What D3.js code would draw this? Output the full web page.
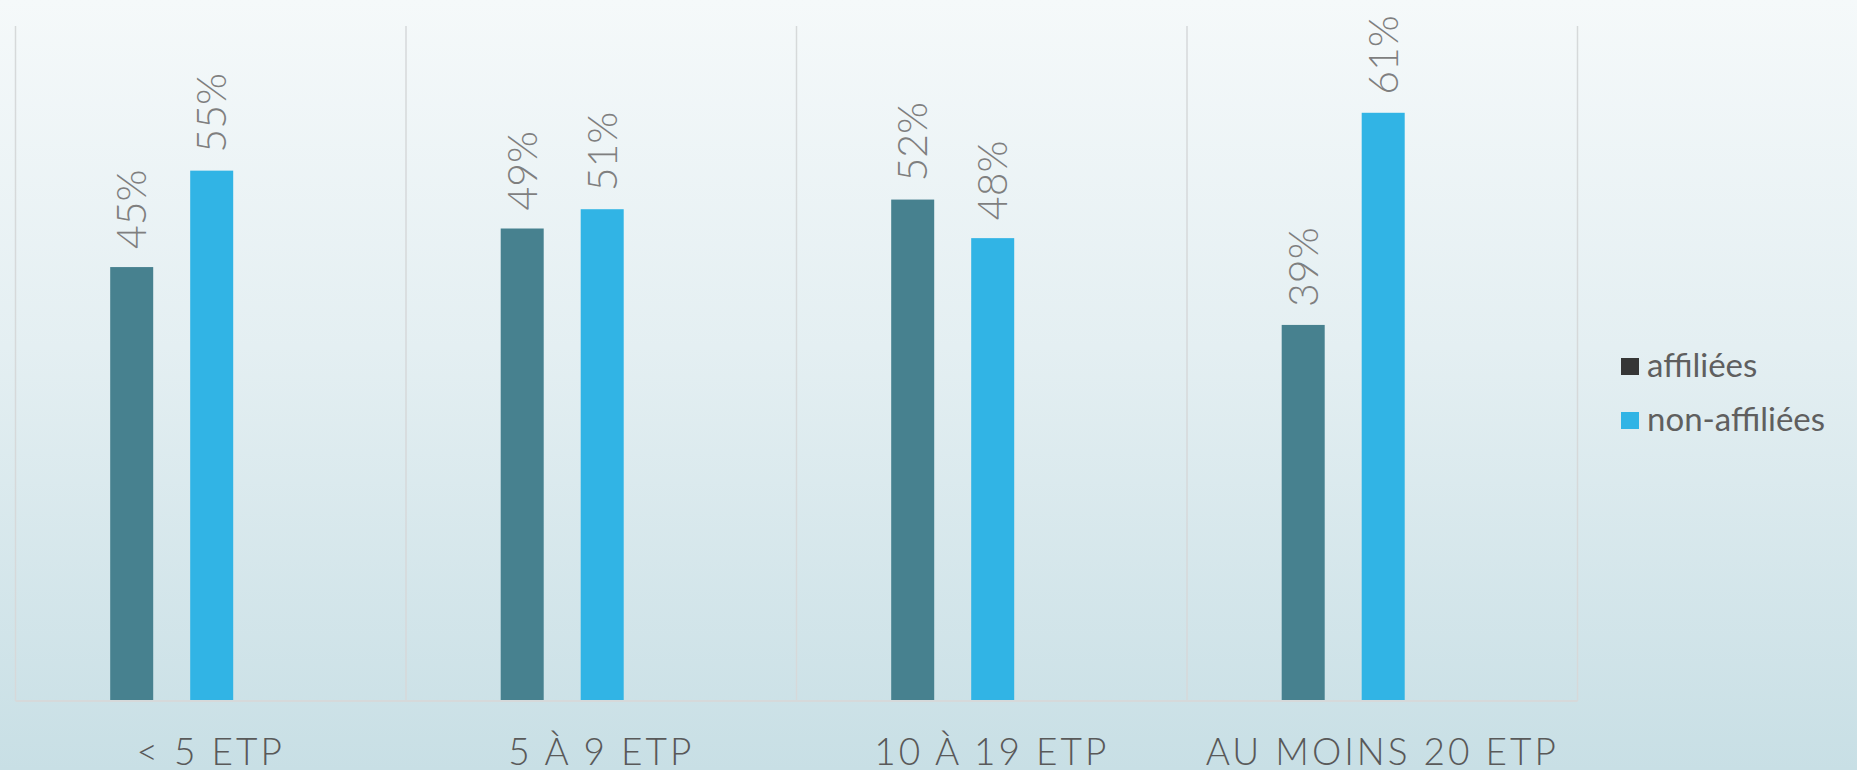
<!DOCTYPE html>
<html>
<head>
<meta charset="utf-8">
<script src="https://cdn.jsdelivr.net/npm/d3@7"></script>
<style>
  html, body { margin: 0; padding: 0; }
  body { width: 1857px; height: 770px; overflow: hidden; }
  svg { display: block; }
</style>
</head>
<body>
<svg id="chart" width="1857" height="770"></svg>
<script>
// Share of establishments by size class, affiliated vs non-affiliated
const categories = ["< 5 ETP", "5 À 9 ETP", "10 À 19 ETP", "AU MOINS 20 ETP"];
const seriesNames = ["affiliées", "non-affiliées"];
const affiliees = [0.45, 0.49, 0.52, 0.39];
const nonAffiliees = [0.55, 0.51, 0.48, 0.61];
const barColors = ["#47818f", "#31b4e5"];
const legendColors = ["#363636", "#31b4e5"];

const W = 1857, H = 770;
const plot = { left: 15.5, right: 1577.5, top: 26, bottom: 701 };

const svg = d3.select("#chart");

// soft vertical background gradient
const defs = svg.append("defs");
const grad = defs.append("linearGradient")
  .attr("id", "bg").attr("x1", 0).attr("y1", 0).attr("x2", 0).attr("y2", 1);
grad.append("stop").attr("offset", "0%").attr("stop-color", "#f5f9fa");
grad.append("stop").attr("offset", "45%").attr("stop-color", "#e4eff2");
grad.append("stop").attr("offset", "100%").attr("stop-color", "#c8dfe5");
svg.append("rect").attr("width", W).attr("height", H).attr("fill", "url(#bg)");

const x0 = d3.scaleBand().domain(categories)
  .range([plot.left, plot.right]).paddingInner(0).paddingOuter(0);
const bw = x0.bandwidth();
// bars sit in the left part of each category slot
const x1 = d3.scaleBand().domain(seriesNames)
  .range([bw * 0.2425, bw * 0.5575]).paddingInner(0.4625).paddingOuter(0);
const y = d3.scaleLinear().domain([0, 0.7]).range([plot.bottom, plot.top]);

// vertical separators between categories
const bounds = categories.map(c => x0(c)).concat([x0(categories[categories.length - 1]) + bw]);
svg.append("g").selectAll("line").data(bounds).join("line")
  .attr("x1", d => d).attr("x2", d => d)
  .attr("y1", plot.top).attr("y2", plot.bottom)
  .attr("stroke", "#d6d9da").attr("stroke-width", 1.5);

// bars
const rows = categories.map((c, i) => ({
  cat: c,
  vals: [
    { key: seriesNames[0], v: affiliees[i], color: barColors[0] },
    { key: seriesNames[1], v: nonAffiliees[i], color: barColors[1] }
  ]
}));

const groups = svg.append("g").selectAll("g").data(rows).join("g")
  .attr("transform", d => `translate(${x0(d.cat)},0)`);

groups.selectAll("rect").data(d => d.vals).join("rect")
  .attr("x", d => x1(d.key))
  .attr("width", x1.bandwidth())
  .attr("y", d => y(d.v))
  .attr("height", d => y(0) - y(d.v))
  .attr("fill", d => d.color);

// rotated value labels above bars
groups.selectAll("text.val").data(d => d.vals).join("text")
  .attr("class", "val")
  .attr("transform", d => `translate(${x1(d.key) + x1.bandwidth() / 2},${y(d.v) - 18}) rotate(-90)`)
  .attr("dy", "0.36em")
  .attr("text-anchor", "start")
  .attr("font-family", "Lato, 'Open Sans', sans-serif")
  .attr("font-weight", 300)
  .attr("font-size", 41)
  .attr("fill", "#7f7f7f")
  .text(d => Math.round(d.v * 100) + "%");

// baseline
svg.append("line")
  .attr("x1", plot.left).attr("x2", plot.right)
  .attr("y1", plot.bottom).attr("y2", plot.bottom)
  .attr("stroke", "#d6d9da").attr("stroke-width", 2);

// category axis
const xAxis = d3.axisBottom(x0).tickSize(0).tickPadding(0);
const axisG = svg.append("g").attr("transform", `translate(0,${plot.bottom})`).call(xAxis);
axisG.select(".domain").remove();
axisG.selectAll("text")
  .attr("y", 64)
  .attr("dy", 0)
  .attr("font-family", "Lato, 'Open Sans', sans-serif")
  .attr("font-weight", 300)
  .attr("font-size", 37)
  .attr("letter-spacing", "3px")
  .attr("fill", "#595959");

// legend
const legend = svg.append("g").attr("transform", "translate(1621,358)");
const items = legend.selectAll("g").data(seriesNames).join("g")
  .attr("transform", (d, i) => `translate(0,${i * 54})`);
items.append("rect").attr("width", 18).attr("height", 17)
  .attr("fill", (d, i) => legendColors[i]);
items.append("text")
  .attr("x", 26).attr("y", 19)
  .attr("font-family", "Lato, 'Open Sans', sans-serif")
  .attr("font-size", 33)
  .attr("fill", "#5f5f5f")
  .text(d => d);
</script>
</body>
</html>
